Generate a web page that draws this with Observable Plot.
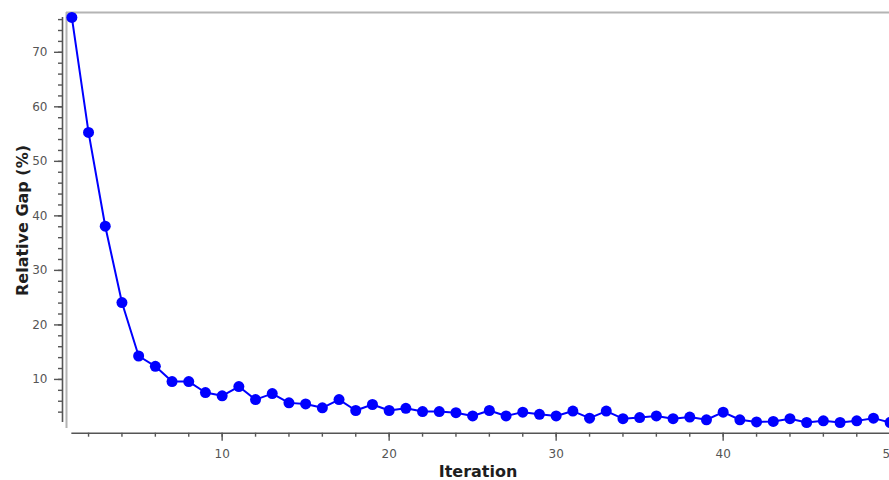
<!DOCTYPE html>
<html>
<head>
<meta charset="utf-8">
<script src="https://cdn.jsdelivr.net/npm/d3@7"></script>
<script src="https://cdn.jsdelivr.net/npm/@observablehq/plot@0.6"></script>
<style>
  html, body { margin: 0; padding: 0; background: #fff; overflow: hidden; }
  #chart svg { display: block; overflow: hidden; }
</style>
</head>
<body>
<div id="chart"></div>
<script>
// ---- Data ----
const iterations = [1, 2, 3, 4, 5, 6, 7, 8, 9, 10,
  11, 12, 13, 14, 15, 16, 17, 18, 19, 20,
  21, 22, 23, 24, 25, 26, 27, 28, 29, 30,
  31, 32, 33, 34, 35, 36, 37, 38, 39, 40,
  41, 42, 43, 44, 45, 46, 47, 48, 49, 50];
const relativeGap = [76.4, 55.3, 38.1, 24.1, 14.3, 12.4, 9.6, 9.6, 7.6, 7.0,
  8.7, 6.3, 7.4, 5.7, 5.5, 4.8, 6.3, 4.3, 5.4, 4.3,
  4.7, 4.1, 4.1, 3.9, 3.3, 4.3, 3.3, 4.0, 3.6, 3.3,
  4.2, 2.9, 4.2, 2.8, 3.0, 3.3, 2.8, 3.1, 2.6, 4.0,
  2.6, 2.2, 2.3, 2.8, 2.1, 2.4, 2.1, 2.4, 2.9, 2.1];

const xMinorTicks = [2, 4, 6, 8, 10, 12, 14, 16, 18, 20, 22, 24, 26, 28, 30,
  32, 34, 36, 38, 40, 42, 44, 46, 48, 50];
const xMajorTicks = [10, 20, 30, 40, 50];
const yMinorTicks = [4, 6, 8, 10, 12, 14, 16, 18, 20, 22, 24, 26, 28, 30, 32, 34, 36, 38,
  40, 42, 44, 46, 48, 50, 52, 54, 56, 58, 60, 62, 64, 66, 68, 70, 72, 74, 76];
const yMajorTicks = [10, 20, 30, 40, 50, 60, 70];

const xTitle = "Iteration";
const yTitle = "Relative Gap (%)";

// scale extents (plot area is padded a little around the data)
const xDomain = [0.68, 49.96];
const yDomain = [1.0, 77.3];

const rows = iterations.map((it, i) => ({iteration: it, gap: relativeGap[i]}));

const axisColor = "#555";
const labelColor = "#555";
const frameColor = "#b4b4b4";
const blue = "#0000ff";

const chart = Plot.plot({
  width: 889,
  height: 480,
  marginLeft: 66,
  marginRight: 0,
  marginTop: 12,
  marginBottom: 52,
  style: {fontFamily: "DejaVu Sans, Verdana, sans-serif", fontSize: "12px", background: "#fff"},
  x: {domain: xDomain, axis: null},
  y: {domain: yDomain, axis: null},
  marks: [
    // light frame (top and left)
    Plot.ruleY([yDomain[1]], {stroke: frameColor, strokeWidth: 2}),
    Plot.ruleX([xDomain[0]], {stroke: frameColor, strokeWidth: 2}),
    // offset axis lines spanning the data extent
    Plot.ruleX([xDomain[0]], {y1: d3.min(relativeGap), y2: d3.max(relativeGap), dx: -4, stroke: axisColor, strokeWidth: 1.6}),
    Plot.ruleY([yDomain[0]], {x1: iterations[0], x2: iterations[iterations.length - 1], dy: 4.7, stroke: axisColor, strokeWidth: 1.6}),
    // y axis ticks
    Plot.axisY(yMinorTicks, {anchor: "left", tickSize: 4, tickFormat: () => "", dx: -4, stroke: axisColor, strokeWidth: 1.4, label: null}),
    Plot.axisY(yMajorTicks, {anchor: "left", tickSize: 8, tickPadding: 7, dx: -4, stroke: axisColor, fill: labelColor, strokeWidth: 1.4, label: null, fontSize: 12}),
    // x axis ticks
    Plot.axisX(xMinorTicks, {anchor: "bottom", tickSize: 4, tickFormat: () => "", dy: 4.7, stroke: axisColor, strokeWidth: 1.4, label: null}),
    Plot.axisX(xMajorTicks, {anchor: "bottom", tickSize: 8, tickPadding: 8, dy: 4.7, stroke: axisColor, fill: labelColor, strokeWidth: 1.4, label: null, fontSize: 12}),
    // series
    Plot.line(rows, {x: "iteration", y: "gap", stroke: blue, strokeWidth: 2}),
    Plot.dot(rows, {x: "iteration", y: "gap", r: 5.5, fill: blue, stroke: "none"}),
    // axis titles
    Plot.text([yTitle], {frameAnchor: "left", textAnchor: "middle", lineAnchor: "middle", rotate: -90, dx: -44, fontWeight: "bold", fontSize: 16, fill: "#1e1e1e"}),
    Plot.text([xTitle], {frameAnchor: "bottom", textAnchor: "middle", lineAnchor: "middle", dy: 43, fontWeight: "bold", fontSize: 16, fill: "#1e1e1e"})
  ]
});

document.getElementById("chart").appendChild(chart);
</script>
</body>
</html>
